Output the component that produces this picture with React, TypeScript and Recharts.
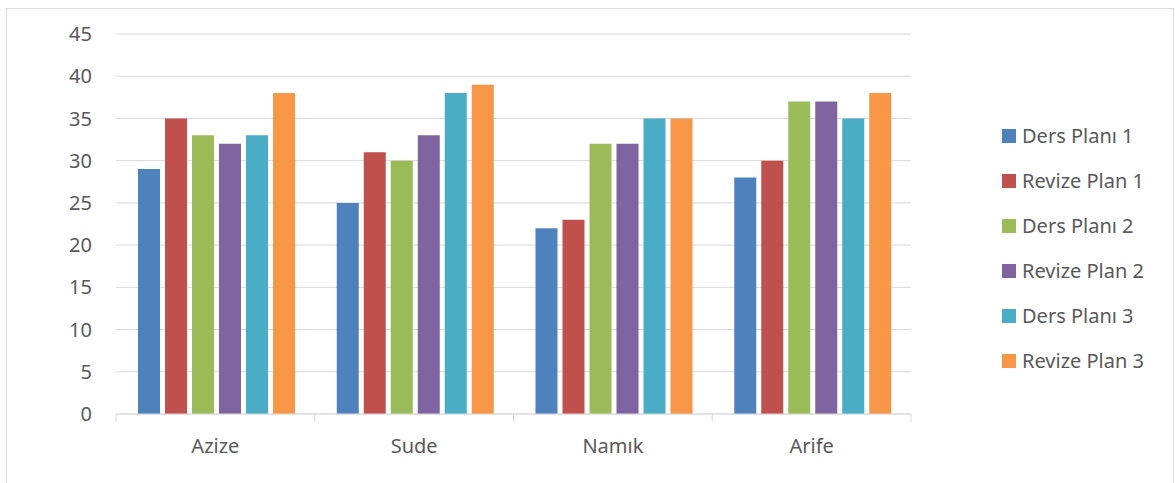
import React from 'react';
import { BarChart, Bar, XAxis, YAxis, CartesianGrid, Legend } from 'recharts';

const categories = ['Azize', 'Sude', 'Namık', 'Arife'];
const seriesNames = ['Ders Planı 1', 'Revize Plan 1', 'Ders Planı 2', 'Revize Plan 2', 'Ders Planı 3', 'Revize Plan 3'];
const dersPlani1 = [29, 25, 22, 28];
const revizePlan1 = [35, 31, 23, 30];
const dersPlani2 = [33, 30, 32, 37];
const revizePlan2 = [32, 33, 32, 37];
const dersPlani3 = [33, 38, 35, 35];
const revizePlan3 = [38, 39, 35, 38];
const yTicks = [0, 5, 10, 15, 20, 25, 30, 35, 40, 45];
const colors = ['#4F81BD', '#C0504D', '#9BBB59', '#8064A2', '#4BACC6', '#F79646'];

const seriesValues = [dersPlani1, revizePlan1, dersPlani2, revizePlan2, dersPlani3, revizePlan3];
const keys = ['s0', 's1', 's2', 's3', 's4', 's5'];

const data = categories.map((c, i) => {
  const row: any = { name: c };
  keys.forEach((k, j) => { row[k] = seriesValues[j][i]; });
  return row;
});

const FONT = '"Noto Sans", "Open Sans", sans-serif';
const TEXT = '#595959';
const GRID = '#d9d9d9';
const FS = 20;

const W = 1166;
const H = 474;
const M = { top: 25, right: 262, left: 0, bottom: 0 };
const YW = 109;
const XH = 69;

const XTick = (props: any) => {
  const { x, y, payload, index } = props;
  const half = typeof payload?.offset === 'number' && payload.offset > 0 ? payload.offset : (W - M.right - YW) / 8;
  return (
    <g>
      <line x1={x - half} x2={x - half} y1={y} y2={y + 8} stroke={GRID} strokeWidth={1} />
      {index === categories.length - 1 && (
        <line x1={x + half} x2={x + half} y1={y} y2={y + 8} stroke={GRID} strokeWidth={1} />
      )}
      <text x={x} y={y + 31} textAnchor="middle" dominantBaseline="central" fill={TEXT} fontSize={FS} fontFamily={FONT}>
        {payload.value}
      </text>
    </g>
  );
};

const LegendContent = () => (
  <div style={{ fontFamily: FONT, fontSize: FS, color: TEXT }}>
    {seriesNames.map((n, i) => (
      <div key={n} style={{ height: 45, display: 'flex', alignItems: 'center' }}>
        <span style={{ width: 14, height: 14, background: colors[i], display: 'inline-block', marginRight: 6 }} />
        <span style={{ whiteSpace: 'nowrap' }}>{n}</span>
      </div>
    ))}
  </div>
);

export default function App() {
  return (
    <div style={{ position: 'absolute', left: 6, top: 8, width: W, height: 480, border: `1px solid ${GRID}`, background: '#fff' }}>
      <BarChart width={W} height={H} data={data} margin={M} barCategoryGap={22} barGap={5}>
        <CartesianGrid vertical={false} stroke={GRID} strokeWidth={1} />
        <XAxis
          dataKey="name"
          height={XH}
          axisLine={{ stroke: GRID, strokeWidth: 1 }}
          tickLine={false}
          tickSize={0}
          tickMargin={0}
          tick={<XTick />}
          interval={0}
        />
        <YAxis
          width={YW}
          domain={[0, 45]}
          ticks={yTicks}
          interval={0}
          axisLine={false}
          tickLine={false}
          tickSize={0}
          tickMargin={24}
          tick={{ fill: TEXT, fontSize: FS, fontFamily: FONT }}
        />
        <Legend
          layout="vertical"
          align="center"
          verticalAlign="middle"
          content={<LegendContent />}
          wrapperStyle={{ position: 'absolute', left: 995, top: 104, width: 170 }}
        />
        {keys.map((k, j) => (
          <Bar key={k} dataKey={k} name={seriesNames[j]} fill={colors[j]} isAnimationActive={false} />
        ))}
      </BarChart>
    </div>
  );
}
